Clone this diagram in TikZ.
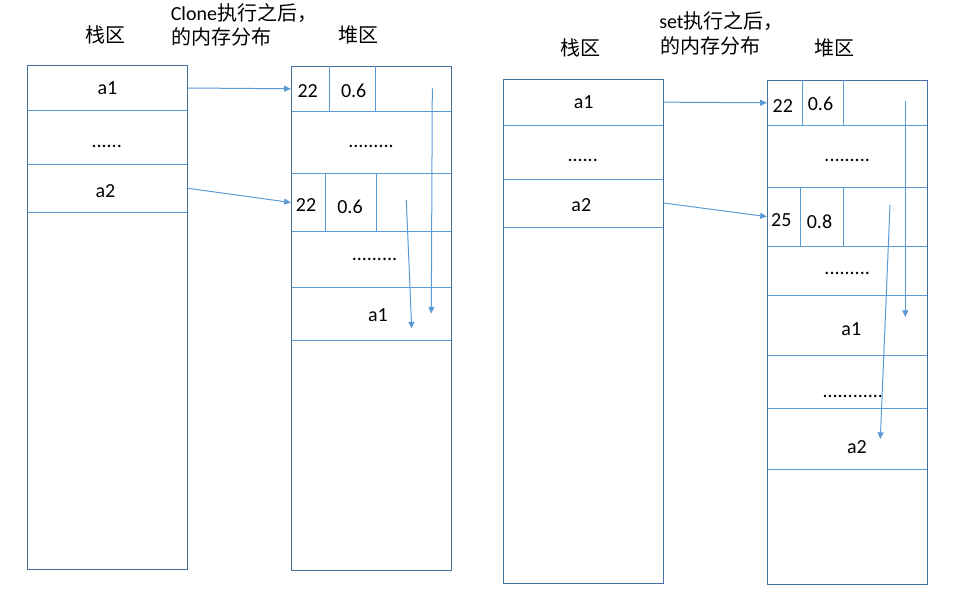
\documentclass[tikz,border=0pt]{standalone}
\usepackage{fontspec}
\setmainfont{Carlito}
\newfontfamily\cjk{Noto Sans CJK SC}
\usetikzlibrary{arrows.meta,fit}
\definecolor{boxblue}{HTML}{41719C}
\definecolor{lineblue}{HTML}{5B9BD5}
\begin{document}
\begin{tikzpicture}[x=0.75pt,y=-0.75pt,
  every node/.style={font=\fontsize{15}{18}\selectfont, inner sep=0pt},
  outer/.style={draw=boxblue, line width=0.75pt},
  cell/.style={draw=lineblue, line width=0.7pt, inner sep=0pt},
  sep/.style={draw=lineblue, line width=0.7pt},
  ptr/.style={draw=lineblue, line width=0.75pt, -{Triangle[length=5pt,width=4.5pt]}},
  lbl/.style={anchor=center},
  dots/.style={anchor=base},
  hdr/.style={anchor=base west},
  hdrc/.style={anchor=base}]
\useasboundingbox (0,0) rectangle (971,598);

% ===== Left panel =====
\node[hdrc] (lstackt) at (105,42.6) {\cjk 栈区};
\node[hdrc] (lheapt) at (358,42.6) {\cjk 堆区};
\node[hdr] (lcap1) at (170.5,20.5) {Clone\cjk 执行之后，};
\node[hdr] (lcap2) at (171,45) {\cjk 的内存分布};

% stack cells
\node[cell, fit={(27.3,65.5) (187.3,110.5)}] (lsa1) {};
\node[cell, fit={(27.3,110.5) (187.3,164.3)}] (lsd) {};
\node[cell, fit={(27.3,164.3) (187.3,212.3)}] (lsa2) {};
\node[outer, fit={(27.3,65.5) (187.3,569)}] (lstack) {};
\node[lbl] (lsa1t) at (107.5,88) {a1};
\node[dots] (lsdt) at (106.7,147.3) {......};
\node[lbl] (lsa2t) at (105.5,191) {a2};

% heap cells
\node[cell, fit={(291.3,66.3) (451.3,111.3)}] (lh1) {};
\node[cell, fit={(291.3,111.3) (451.3,173.3)}] (lh2) {};
\node[cell, fit={(291.3,173.3) (451.3,231.7)}] (lh3) {};
\node[cell, fit={(291.3,231.7) (451.3,287.3)}] (lh4) {};
\node[cell, fit={(291.3,287.3) (451.3,340.3)}] (lh5) {};
\node[outer, fit={(291.3,66.3) (451.3,570)}] (lheap) {};
\draw[sep] (329.3,66.3) -- (329.3,111.3);
\draw[sep] (375.7,66.3) -- (375.7,111.3);
\draw[sep] (325.3,173.3) -- (325.3,231.7);
\draw[sep] (376.3,173.3) -- (376.3,231.7);
\node[lbl] (lh1a) at (307.7,91.5) {22};
\node[lbl] (lh1b) at (353.7,90.7) {0.6};
\node[dots] (lh2t) at (371,147.7) {.........};
\node[lbl] (lh3a) at (306,205) {22};
\node[lbl] (lh3b) at (350,207) {0.6};
\node[dots] (lh4t) at (374.5,260.3) {.........};
\node[lbl] (lh5t) at (378,314.7) {a1};

\draw[ptr] (lsa1.east) -- (lh1.west);
\draw[ptr] (lsa2.east) -- (lh3.west);
\coordinate (ld1s) at (432.3,88.3);
\coordinate (ld1e) at (431.3,313.5);
\coordinate (ld2s) at (406.3,200);
\coordinate (ld2e) at (411.7,328.5);
\draw[ptr] (ld1s) -- (ld1e);
\draw[ptr] (ld2s) -- (ld2e);

% ===== Right panel =====
\node[hdrc] (rstackt) at (580.7,56) {\cjk 栈区};
\node[hdrc] (rheapt) at (834,56) {\cjk 堆区};
\node[hdr] (rcap1) at (659,29) {set\cjk 执行之后，};
\node[hdr] (rcap2) at (660,54) {\cjk 的内存分布};

\node[cell, fit={(503.3,79.3) (663.3,125)}] (rsa1) {};
\node[cell, fit={(503.3,125) (663.3,179)}] (rsd) {};
\node[cell, fit={(503.3,179) (663.3,227)}] (rsa2) {};
\node[outer, fit={(503.3,79.3) (663.3,583.3)}] (rstack) {};
\node[lbl] (rsa1t) at (583.7,102.3) {a1};
\node[dots] (rsdt) at (582.7,161.7) {......};
\node[lbl] (rsa2t) at (581.3,205) {a2};

\node[cell, fit={(767.3,80.3) (927.3,125.3)}] (rh1) {};
\node[cell, fit={(767.3,125.3) (927.3,187.3)}] (rh2) {};
\node[cell, fit={(767.3,187.3) (927.3,246)}] (rh3) {};
\node[cell, fit={(767.3,246) (927.3,295)}] (rh4) {};
\node[cell, fit={(767.3,295) (927.3,355.3)}] (rh5) {};
\node[cell, fit={(767.3,355.3) (927.3,408.3)}] (rh6) {};
\node[cell, fit={(767.3,408.3) (927.3,469.3)}] (rh7) {};
\node[outer, fit={(767.3,80.3) (927.3,584)}] (rheap) {};
\draw[sep] (802.3,80.3) -- (802.3,125.3);
\draw[sep] (843.3,80.3) -- (843.3,125.3);
\draw[sep] (800.3,187.3) -- (800.3,246);
\draw[sep] (843.3,187.3) -- (843.3,246);
\node[lbl] (rh1a) at (782.8,106) {22};
\node[lbl] (rh1b) at (820.5,104.3) {0.6};
\node[dots] (rh2t) at (847.2,161.7) {.........};
\node[lbl] (rh3a) at (781.3,219.7) {25};
\node[lbl] (rh3b) at (819.5,221.7) {0.8};
\node[dots] (rh4t) at (847.2,275) {.........};
\node[lbl] (rh5t) at (851.3,328.7) {a1};
\node[dots] (rh6t) at (852.8,397.3) {............};
\node[lbl] (rh7t) at (857,447.3) {a2};

\draw[ptr] (rsa1.east) -- (rh1.west);
\draw[ptr] (rsa2.east) -- (rh3.west);
\coordinate (rd1s) at (905.3,100.7);
\coordinate (rd1e) at (905.3,317);
\coordinate (rd2s) at (890,205);
\coordinate (rd2e) at (880.3,439);
\draw[ptr] (rd1s) -- (rd1e);
\draw[ptr] (rd2s) -- (rd2e);
\end{tikzpicture}
\end{document}
